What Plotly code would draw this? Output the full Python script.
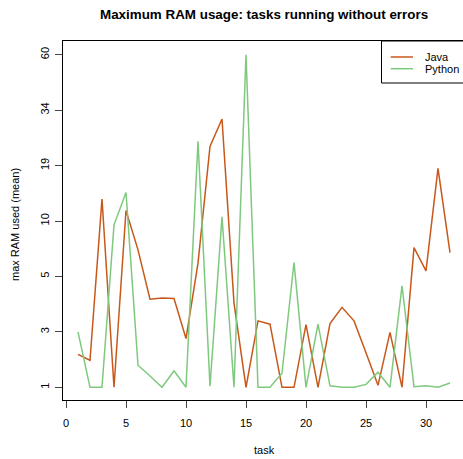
import numpy as np
import plotly.graph_objects as go

tasks = list(range(1, 33))
java = [1.92, 1.71, 12.9, 1.0, 11.3, 6.97, 4.05, 4.10, 4.08, 2.63,
        5.9, 23.2, 31.0, 3.91, 1.0, 3.32, 3.22, 1.0, 1.0, 3.21,
        1.0, 3.24, 3.76, 3.32, 1.98, 1.04, 2.97, 1.0, 7.17, 5.36,
        18.4, 6.74]
python = [3.0, 1.0, 1.0, 9.53, 13.9, 1.55, 1.25, 1.0, 1.39, 1.0,
          24.5, 1.02, 10.5, 1.0, 60.0, 1.0, 1.0, 1.32, 5.95, 1.0,
          3.22, 1.03, 1.0, 1.0, 1.06, 1.35, 1.0, 4.58, 1.01, 1.03,
          1.0, 1.09]
y_tick_values = [1, 3, 5, 10, 19, 34, 60]
x_tick_values = [0, 5, 10, 15, 20, 25, 30]

def scale(v):
    return np.interp(np.log(v), np.log(y_tick_values), np.arange(len(y_tick_values)))

FONT = "Liberation Sans, Arial, sans-serif"
JAVA_C = "#C8581A"
PY_C = "#7FC97F"

fig = go.Figure()
fig.add_trace(go.Scatter(x=tasks, y=scale(java), mode="lines", name="Java",
                         line=dict(color=JAVA_C, width=1.5)))
fig.add_trace(go.Scatter(x=tasks, y=scale(python), mode="lines", name="Python",
                         line=dict(color=PY_C, width=1.5)))

def px(x):
    return (x - 63) / 400.0

def py(y):
    return (400 - y) / 359.0

fig.update_layout(
    width=463, height=459,
    margin=dict(l=63, r=0, t=41, b=59),
    paper_bgcolor="white", plot_bgcolor="white",
    showlegend=False,
    font=dict(family=FONT, size=11, color="black"),
    xaxis=dict(range=[-0.25, 33.083], tickvals=x_tick_values,
               ticks="outside", ticklen=7, tickcolor="#444", tickwidth=1,
               ticklabelstandoff=6,
               showline=True, linecolor="black", linewidth=1, mirror=True,
               showgrid=False, zeroline=False, tickfont=dict(size=11)),
    yaxis=dict(range=[-0.229, 6.247], tickvals=list(range(len(y_tick_values))),
               ticktext=[str(v) for v in y_tick_values], tickangle=-90,
               ticks="outside", ticklen=7, tickcolor="#444", tickwidth=1,
               ticklabelstandoff=2,
               showline=True, linecolor="black", linewidth=1,
               showgrid=False, zeroline=False, tickfont=dict(size=11)),
)

annotations = [
    dict(text="<b>Maximum RAM usage: tasks running without errors</b>",
         x=px(264), y=py(14), xref="paper", yref="paper", showarrow=False,
         xanchor="center", yanchor="middle", font=dict(size=13.4)),
    dict(text="task", x=px(264), y=py(450), xref="paper", yref="paper",
         showarrow=False, xanchor="center", yanchor="middle", font=dict(size=11)),
    dict(text="max RAM used (mean)", x=px(15), y=py(225), xref="paper", yref="paper",
         showarrow=False, xanchor="center", yanchor="middle", textangle=-90,
         font=dict(size=11)),
    dict(text="Java", x=px(422.5), y=py(57), xref="paper", yref="paper",
         showarrow=False, xanchor="left", yanchor="middle", font=dict(size=11)),
    dict(text="Python", x=px(422.5), y=py(68.7), xref="paper", yref="paper",
         showarrow=False, xanchor="left", yanchor="middle", font=dict(size=11)),
]
fig.update_layout(annotations=annotations)

shapes = [
    dict(type="rect", xref="paper", yref="paper", x0=px(381.5), x1=1.02,
         y0=py(83), y1=1.0, line=dict(color="black", width=1),
         fillcolor="white", layer="above"),
    dict(type="line", xref="paper", yref="paper", x0=px(390.7), x1=px(413),
         y0=py(57), y1=py(57), line=dict(color=JAVA_C, width=1.5)),
    dict(type="line", xref="paper", yref="paper", x0=px(390.7), x1=px(413),
         y0=py(68.7), y1=py(68.7), line=dict(color=PY_C, width=1.5)),
]
fig.update_layout(shapes=shapes)

fig.write_html("out.html", config={"displayModeBar": False},
               post_script="document.body.style.margin='0';document.body.style.overflow='hidden';")
